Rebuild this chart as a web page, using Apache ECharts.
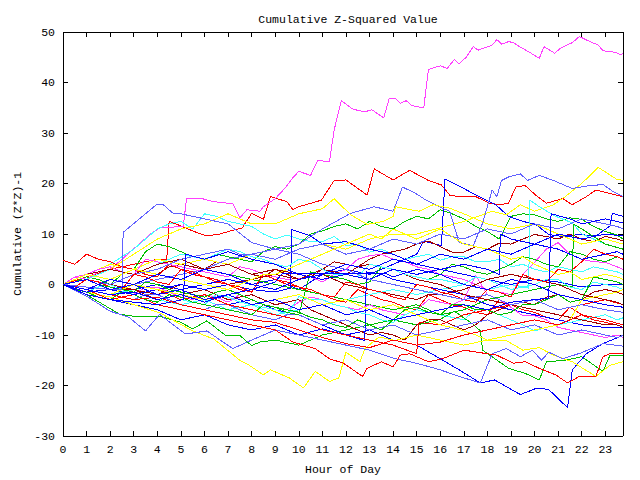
<!DOCTYPE html>
<html><head><meta charset="utf-8">
<script src="https://cdn.jsdelivr.net/npm/echarts@6/dist/echarts.min.js"></script>
<style>html,body{margin:0;padding:0;background:#fff}#c{width:640px;height:480px}#c svg path{shape-rendering:crispEdges}</style>
</head><body><div id="c"></div>
<script>
// half-hour grid for regularly sampled series (0, 0.5, ... 23.5, 23.75)
const halfHours = Array.from({length:48}, (_, i) => i / 2).concat([23.75]);
const yTicks = [-30,-20,-10,0,10,20,30,40,50];

// half-hourly series (values at halfHours[])
const red2 = [4.8,4, 6,5, 4.5,3.5, 3,2, 1.5,4, 3,2, 1.5,0.5, 0,-1, -1.5,2, 1,0, -0.5,-1.5, -2,-3, -3.5,-1, -2,-3, -3.5,-4.5, -5,-2, -3,-4, -4.5,-5.5, -6,-3, -4,-5, -5.5,-6.5, -7,-4.5, -6,-7, -7.5,-8, -8.5];
const red5 = [0,-0.5, 1,0.5, -0.5,-1, 2,1.5, 0.5,0, 3,2.5, 1.5,1, 0,-0.5, -1.5,2, 1,0.5, -0.5,-1, -2,-2.5, 0.5,0, -1,-1.5, -2.5,-3, 0,-0.5, -1.5,-2, -3,-3.5, -1,-1.5, -2.5,2, 1,0.5, 3,2.5, 4.5,7, 6,5.5, 5];
const green1 = [0,0.5, 1.5,1, 0,2, 3,6.5, 8,7.5, 6.5,5.5, 5,6, 5.5,5, 4.5,6.5, 7.5,7, 8,10, 10.6,11.5, 12,11, 12.5,11.5, 11,12.5, 13.5,13, 14.8,14, 13,11.5, 10.5,9, 13.5,14, 13.8,13, 12.5,13.2, 12.9,11.5, 10.5,9.8, 9];
const green4 = [0,-1, -1.5,-2.5, -3,-1.5, -2,-3, -3.5,-2, -2.5,-3.5, -4,-4.5, -5,-5.5, -6,-4, -4.5,-5.5, -6,2.5, 2,1.5, 1,0, 0.5,3.5, 3,2, 1.5,1, 2,4, 3.5,2.5, 2,3, 4,5.5, 5,4, 3.5,6.5, 6,5, 4.5,5.5, 5];
const green5 = [0,0.5, 1,0, -0.5,-1, -1.5,0.5, 0,-1, -1.5,-2, -2.5,-1.5, -1,-2, -3,-4, -4.5,-5, -5.5,-6.5, -7,-8, -8.5,-7, -8,-9, -7,-5, -4.5,-5.5, -6,-4, -4,-5, -5,-6, -5.5,-4, -4,-3, -2,-3.5, -3,1.5, 1,0.5, 0];
const magenta2 = [0,1.5, 2,3, 3.5,2.5, 2,5, 4.5,4, 3.5,3, 2.5,2, 1.5,3.5, 3,2, 1.5,1, 1.2,1.5, 0.5,2, 3,5, 5.7,6, 5,4.5, 3.5,3, 2,1.5, 1,0, -1,-1.5, -2,2, 4.4,7, 8.3,6, 5,4.5, 4.4,3.5, 3];
const magenta3 = [0,0.5, 1,0, -1,-1.5, -2,-0.5, -0.5,-1.5, -2.5,-3, -2,-2.5, -3.5,-2, -3,-4, -4.5,-5, -3.5,-2.5, -3,-4, -4.5,-5, -4,-5, -5.5,-6, -5,-3, -3.5,-4, -3,1.8, -2,-3, -4.5,-6.2, -6.2,-7, -8.5,-9, -9.5,-10, -10.5,-10, -10.5];
const cyan1 = [0,1, 2,3, 4,5.5, 7,9, 11,12, 12.5,11, 14,13.5, 12.5,12, 11.5,10, 9,9.8, 9,8.5, 8.5,9.5, 7.7,8, 6.4,7, 6,5, 5.5,6, 4.8,5.5, 5.5,4.5, 4.5,5, 3.5,4, 3,2.5, 3.5,3, 2.5,3.5, 3,2.5, 2];
const cyan3 = [0,-1, -1.5,-0.5, 0,-1, -2,-1.5, -1,-2, -3,-3.5, -4,-2, -2.5,-3.5, -4,-4.5, -5,-6, -2.4,-3, -3,-4, -4.5,-5.5, -6,-7, -7.5,-6, -5,-5.5, -6,-6.5, -7,-5, -5,-6, -7,-8, -9.2,-8.5, -8,-7.5, -7,-6.5, -6,-7, -6.6];
const cyan4 = [0,0.5, 1,2, 3,2.5, 2,3, 4,5, 6,5.5, 5,6, 7,6.5, 5.5,5, 4,3.5, 5,4.5, 3,2, 2,1.5, 4,3.5, 3,2, 1.5,1, 1,0.5, 0,1.5, 1,0, -1,-0.5, 0,1, 1,-0.5, -1,0.5, 0,-0.5, -1];
const darkred1 = [0,-0.5, -1,0, 1,2, 3,2.5, 2,3.5, 4,3.5, 3,4.5, 4,3, 2,1.5, 3,2.5, 2,1.5, 3,4.5, 4,3.5, 5,6, 6.5,7, 8,8.6, 7.5,6.4, 6.4,7.5, 7,8.2, 8,9, 9.9,9.5, 9,10, 9,8.5, 9.5,9, 8.6];
const darkred2 = [0,0.5, 1,0.5, 0,-0.5, -1,-1.5, -2,-1, 0,-0.5, -1,-2, -3,-2.5, -2,-3, -4,-3.5, -3,-5, -6,-7, -8,-9, -10,-9.5, -10,-11, -8,-7, -7,-8, -9,-8, -6,-5, -4,-3.5, -4,-2.5, -2,-2.5, -3,-1.5, -1,-1.5, -2];
const darkred3 = [0,-0.5, -1,-1.5, -2,-1, -1,-2, -3,-2.5, -2,-1.5, -1,-0.5, 0,0.5, 1,1.5, 2,1.5, 1,2, 3,2.5, 2,3.5, 4,3.5, 3,2, 1,0.5, 0,-1, -2,-2.5, -3,-3.5, -4,-4.5, -5,-5.5, -6,-6.5, -7,-7.5, -8,-8, -8.5];
const darkred4 = [0,1, 2,2.5, 3,2.5, 2,3, 4,4.5, 5,4, 3,3.5, 4,3, 2,2.5, 3,2, 1,1.5, 2,1, 0,-0.5, -1,-1.5, -2,-2.5, -3,-2, -2,-1.5, -1,0, 1,1.5, 2,1.5, 1,0.5, 0,-1, -2,-2.5, -3,-3.5, -4];
const yellow4 = [0,-0.5, -1,-1.5, -2,-1, 0,-0.5, -1,-1.5, -2,-2.5, -3,-2.5, -2,-3, -4,-3.5, -3,-2.5, -2,-3, -4,-3.5, -3,-4, -5,-4.5, -4,-5, -6,-7, -8,-8.5, -9.2,-10, -11,-10.5, -10,-9.5, -9,-8.5, -8,-7, -3,-2.5, -2,-1.5, -1];
const yellow5 = [0,1, 2,1.5, 1,2, 3,2.5, 2,1.5, 1,0.5, 0,-0.5, -1,0, 1,2, 2,3, 4,5, 6,7, 8,9, 10,9, 11,10, 9,10, 11,9.5, 8,7.5, 7,6, 5,5.5, 4,3, 2,2.5, 1,1.5, 2,1.5, 1];
const slate3 = [0,-0.5, -1,-1.5, -2,-2.5, -3,-2, -2,-3, -4,-4.5, -5,-4, -4,-5, -6,-6.5, -7,-6, -6,-7, -8,-7.5, -7,-8, -9,-8.5, -8,-9, -10,-9.5, -9,-8.5, -8,-7.5, -7,-8, -9,-8.5, -8,-9, -10,-9.5, -9,-9.5, -10,-10.5, -10.1];
const slate4 = [0,0.5, 1,0.5, 0,1, 2,2.5, 3,4, 5,5.5, 6,6.5, 7,6, 6,5.5, 5,6, 7,7.5, 8,7, 6,6.5, 7,8, 9,8.5, 8,9, 10,9.5, 9,10, 11,10.5, 10,11, 12,11.5, 11,12, 13,12.5, 12,11.5, 11];
const blue7 = [0,-0.5, -1,0, 1,0.5, 0,1, 2,1.5, 1,2, 3,2.5, 2,1, 0,-0.5, -1,0, 1,1.5, 2,3, 4,3.5, 3,4, 5,4.5, 4,5, 6,5.5, 5,6, 7,6.5, 6,7, 8,7.5, 7,6, 5,5.5, 6,6.5, 6];

// irregularly sampled series as [hour, value]
const magenta1 = [[0,0],[0.5,1.5],[1,1],[1.5,2.5],[2,3],[2.5,5],[3.3,8.3],[3.7,10],[4.1,11.2],[5.1,11.5],[5.24,17],[5.9,17],[6.4,16.4],[7.2,16],[7.5,13.2],[7.8,14.8],[8.35,14.5],[8.5,15.4],[9.0,17],[9.4,19],[9.72,21],[10,22.4],[10.5,21.6],[10.8,24.6],[11.3,24.3],[11.5,30.6],[11.8,36.4],[12.3,34.7],[12.8,34.2],[13.1,34.6],[13.6,33],[13.84,36.9],[14.1,36.9],[14.3,35.9],[14.56,36.4],[14.8,35.4],[15.3,35],[15.5,42.6],[16,43.3],[16.3,42.8],[16.6,44.6],[16.8,43.7],[17.1,45],[17.4,47.1],[17.6,46.4],[18.2,47.4],[18.4,48.5],[18.6,47.6],[18.9,48.1],[19.1,47.9],[19.4,47],[19.85,45.8],[20.2,44.8],[20.4,47.1],[20.85,45.8],[21.1,46.8],[21.6,47.9],[21.9,49.1],[22.3,48.2],[22.7,47.4],[22.9,46.3],[23.4,46],[23.65,45.5],[23.75,45.8]];
const red1 = [[0,0],[1,1.5],[2,3],[3,4],[4,5],[4.4,5],[4.5,12.5],[5,11.6],[5.5,10.6],[6.1,9.6],[6.65,10],[7.1,10.6],[7.6,11.2],[8,14.1],[8.5,12.9],[8.8,17.4],[9.5,16.4],[9.75,14.8],[10,15.4],[10.96,16.7],[11.5,20.6],[12,20.7],[12.9,17.7],[13.2,22.9],[14,20.7],[14.7,22.6],[15.5,20.6],[16.05,19.7],[16.4,17.7],[16.8,17.4],[17.5,17.4],[18.1,16.1],[18.5,15.8],[18.9,16.1],[19.2,19.3],[19.6,19.6],[20.05,17.7],[20.5,16.1],[21.2,17],[21.6,15.8],[22.2,17.4],[22.6,18.7],[23.2,18],[23.75,17.4]];
const red3 = [[0,0],[1,-1],[2,-3],[3,-2],[4,-4],[5,-5],[6,-6],[7,-7],[8,-8],[9,-9],[9.75,-11.4],[10.7,-12.7],[11.3,-14.7],[11.9,-15.6],[12.7,-18.2],[12.9,-16.6],[13.5,-15.3],[14,-16.3],[14.3,-14],[14.7,-13.7],[15.5,-15.3],[16.1,-14.7],[17,-13],[18.4,-14],[19.1,-15.6],[19.6,-15.3],[20.2,-16.6],[20.9,-17.9],[21.4,-19.5],[21.9,-18.2],[22.6,-18.2],[22.9,-14.3],[23.2,-13.7],[23.75,-13.7]];
const red4 = [[0,0],[1,2],[2,1],[3,0],[4,-1],[5,-3],[6,-2],[7,-4],[8,-5],[9,-6],[10,-7],[11,-9],[12,-10],[13,-11],[14,-12],[15,-13.7],[15.1,-7.5],[16,-8],[17,-6],[18,-5],[19,-4],[20,-3],[21,-5],[22,-4],[23,-3],[23.75,-4]];
const red6 = [[0,0],[1,-1],[2,-2],[3,-3],[4,-2.5],[5,-4],[6,-5],[7,-6],[8,-7],[9,-7.5],[10,-9],[11,-10.5],[12,-11.7],[13,-12.5],[14,-11],[15,-12],[16,-11.4],[17,-10],[18,-9],[19,-8],[20,-7],[21,-8],[22,-6],[23,-7],[23.75,-8]];
const green2 = [[0,0],[1,-2],[2.4,-5.9],[3,-6.3],[4.1,-6.3],[5,-7.5],[5.5,-8.8],[6.1,-7.2],[6.9,-10.1],[7.5,-10.1],[8,-12.1],[8.35,-11.4],[9,-11],[10,-12],[11,-10],[12,-9],[13,-8],[14,-7],[15,-8],[16,-6.9],[16.6,-5.3],[17,-6.6],[17.4,-7.9],[17.7,-9.2],[17.8,-13],[18.9,-16.6],[19.6,-17.6],[20.2,-18.9],[20.5,-15.3],[21.3,-15],[22,-14.3],[22.9,-17.2],[23.2,-14],[23.75,-14]];
const green3 = [[0,0],[1,-1],[2,1],[3,0],[4,2],[5,1],[6,3],[7,2],[8,1],[9,0],[10,-1],[11,-2],[12,-3],[13,-4],[14,-5],[15,-4],[16,-6],[17,-5],[18,-3],[19,-2],[20,-1],[21,0],[21.6,-0.5],[21.65,12],[22,11],[23,8],[23.75,7]];
const blue1 = [[0,0],[1,-1],[2,-2],[3,-1],[4,0],[5,-1],[6,0],[7,1],[8,0],[9,1],[10,-1],[11,2],[12,3],[13,2],[14,4],[15,6],[15.3,8.6],[16.05,7.7],[16.2,20.9],[16.6,20],[17.4,18],[18.35,15.8],[18.9,13.5],[19.5,12.5],[20.05,11.9],[20.6,9.9],[21.2,9.5],[21.9,9.9],[22.6,9.6],[23.2,11.6],[23.3,14.1],[23.75,13.5]];
const blue2 = [[0,0],[1,-2],[2,-3],[3,-4],[4,-5],[5,-7],[6,-6],[7,-8],[8,-9],[9,-8],[10,-10],[11,-8.8],[12,-10],[13,-9],[14,-11],[15,-12],[16,-14.7],[16.8,-16.9],[17.7,-19.5],[18.3,-18.9],[19.4,-21.8],[20.1,-20.5],[20.6,-20.8],[21.4,-24.4],[21.6,-16.9],[22.2,-13.7],[22.9,-11.7],[23.75,-10.1]];
const blue3 = [[0,0],[1,-1],[2,0],[3,-2],[4,-1],[5,-3],[6,-2],[7,-4],[8,-3],[9,-5],[10,-6],[11,-8],[12,-10],[12.8,-11.1],[12.87,2.5],[13.5,2],[14,1],[15,0],[16,-1],[17,-2],[18,-4],[19,-5],[20,-6],[21,-7],[22,-8],[23,-8.5],[23.75,-8.5]];
const blue4 = [[0,0],[1,-1.5],[2,-1],[3,-2],[4,-1],[5,0],[6,-1],[7,0],[8,-1],[9,-1.5],[9.65,-0.7],[9.7,10.9],[10.5,9.6],[11,8],[12,8.5],[13,7],[14,6],[15,4],[16,3],[17,2],[18,1],[19,0],[20,1],[21,0.5],[22,-0.5],[23,0],[23.75,0]];
const blue5 = [[0,0],[1,-2],[2,-3],[3,-3.5],[4,-4],[5.1,-3],[5.2,6],[6,5],[7,6.5],[8,5],[9,4],[10,2],[11,1],[12,2],[13,1],[14,3],[15,2],[16,3],[17,4],[18,3],[18.5,2],[18.55,10],[19,9],[20,8],[21,10],[22,9],[23,10],[23.75,9.6]];
const blue6 = [[0,0],[1,1],[2,-1],[3,0],[4,-2],[5,-1],[6,-3],[7,-2],[8,-4],[9,-3],[10,-5],[11,-4],[12,-6],[13,-5],[14,-7],[15,-6],[16,-5],[17,-4],[18,-5],[19,-3.5],[20,-3],[20.6,-2.7],[20.7,14],[21.5,13],[22,12],[23,13],[23.75,12.2]];
const blue8 = [[0,0],[1,-1],[2,-2],[3,-1.5],[4,-3],[5,-2],[6,-3.5],[7,-2],[8,-1],[9,0.5],[9.3,2.2],[13.7,2.2],[14,1.5],[15,3],[16,2],[17,0],[18,-1],[19,1],[20,0],[21,-2],[22,-3],[23,-4],[23.75,-4.5]];
const cyan2 = [[0,0],[1,-1],[2,-2],[3,-1],[4,-3],[5,-4],[6,-3],[7,-5],[8,-4],[9,-6],[10,-5],[11,-4],[12,-3],[13,-2],[14,-1],[15,-2],[16,-1],[17,0],[18,-1],[19,0],[19.75,-0.7],[19.8,16.7],[20.2,15.4],[20.9,13.5],[21.6,12.2],[22,10],[23,8],[23.75,7]];
const yellow1 = [[0,0],[1,2],[2,4],[3,3],[4,5],[5,4],[6,5],[7,4],[8,6],[9,5],[10,7],[11,8],[12,7],[13,9],[14,10],[15,10],[16,11.2],[17,12.5],[18.2,14.5],[18.8,13.8],[19.4,15.8],[20,14.5],[20.8,15.8],[21.3,17.4],[22,20],[22.7,23.2],[23.46,20.9],[23.75,20.6]];
const yellow2 = [[0,0],[1,-1.5],[2,-2.5],[3,-4],[4.1,-5.6],[5.5,-9.2],[6.4,-10.8],[7.5,-15],[7.9,-16],[8.5,-17.9],[8.8,-16.9],[9.6,-18.5],[10.2,-20.5],[10.7,-17.2],[11.3,-19.2],[11.7,-18.5],[12,-13.4],[12.6,-15.3],[12.8,-12.7],[13.4,-10.4],[14.1,-11.1],[15,-10],[16,-11],[17,-12],[18,-11],[18.8,-11.1],[19.5,-13],[20.2,-12.5],[20.8,-14],[21.6,-15.3],[22.6,-18.2],[23.2,-16],[23.75,-15.3]];
const yellow3 = [[0,0],[1,1],[2,3],[3,6],[4,9],[5,11],[6,12],[7,14],[8,12],[9,12],[10,14],[11,15],[11.5,17],[12.2,13.8],[12.9,11.9],[13.6,12.5],[14,13.5],[14.1,15.4],[15.1,14.5],[15.7,15.8],[16.4,15.1],[17,14],[18,12],[19,11],[20,12],[21,10],[22,8],[23,9],[23.75,8]];
const slate1 = [[0,0],[1,-1],[2,-2],[3,0],[4,1],[5,2],[6,3],[7,5],[8,6],[9,7],[10,8],[11,11],[12.2,14.1],[13.2,15.4],[14,14.5],[14.4,19.3],[14.97,18],[15.4,16.7],[16.1,15.1],[16.4,14.5],[16.8,8.3],[17.4,7.7],[17.8,12.2],[18.2,18.7],[18.4,17.4],[18.6,20.6],[18.9,21.3],[19.4,21.9],[19.7,20.6],[20.2,21.6],[20.8,20.6],[21.6,19],[22.2,19.5],[22.9,19.8],[23.3,18.5],[23.75,17.4]];
const slate2 = [[0,0],[1.1,-2.6],[2,-5.3],[2.8,-6.5],[3.5,-9.2],[4.1,-5.9],[4.65,-7.9],[5.2,-9.8],[6.1,-9.2],[7.2,-12.7],[8,-11],[9,-9],[10,-10],[11,-11],[12,-12],[13,-13],[14.1,-14.7],[15,-15.6],[16,-16.9],[16.8,-18.2],[17.7,-19.5],[18.2,-13.7],[18.8,-12.7],[19.4,-14.3],[19.9,-13],[20.3,-15],[20.6,-13.4],[21.2,-14.7],[22,-13.5],[22.9,-11.7],[23.75,-12.2]];
const slate5 = [[0,0],[1,-0.5],[2,-1],[2.5,-1],[2.55,10.3],[3.96,15.8],[4.25,15.8],[4.67,14.1],[5,14],[6,13],[7,12],[8,8.3],[9,7],[10,6],[11,4],[12,3],[13,1],[14,0],[15,-1],[16,-2],[17,-3],[18,-2],[19,-4],[20,-3],[21,-5],[22,-4],[23,-5],[23.75,-5.5]];

const colors = {red:'#ff0000', green:'#00c000', blue:'#0000ff', magenta:'#ff40ff', cyan:'#40ffff', darkred:'#a00000', yellow:'#ffff00', slate:'#6060ff'};

const toPairs = d => (Array.isArray(d[0]) ? d : d.map((v,i)=>[halfHours[i], v]));

const lines = [
  ['red',red1],['green',green1],['blue',blue1],['magenta',magenta1],['cyan',cyan1],['darkred',darkred1],['yellow',yellow1],['slate',slate1],
  ['red',red2],['green',green2],['blue',blue2],['magenta',magenta2],['cyan',cyan2],['darkred',darkred2],['yellow',yellow2],['slate',slate2],
  ['red',red3],['green',green3],['blue',blue3],['magenta',magenta3],['cyan',cyan3],['darkred',darkred3],['yellow',yellow3],['slate',slate3],
  ['red',red4],['green',green4],['blue',blue4],['cyan',cyan4],['darkred',darkred4],['yellow',yellow4],['slate',slate4],
  ['red',red5],['green',green5],['blue',blue5],['yellow',yellow5],['slate',slate5],['blue',blue6],['blue',blue7],['red',red6],['blue',blue8]
];

const FONT = '"Liberation Mono", "DejaVu Sans Mono", monospace';
const series = lines.map(([c,d])=>({
  type:'line', xAxisIndex:0, yAxisIndex:0, data:toPairs(d), showSymbol:false, symbol:'none',
  lineStyle:{color:colors[c], width:1}, itemStyle:{color:colors[c]}, silent:true, z:2
}));

const xBase = {type:'value', min:0, max:23.75, interval:1,
  axisLine:{show:true, onZero:false, lineStyle:{color:'#000', width:1}},
  axisTick:{show:true, inside:true, length:5, lineStyle:{color:'#000'}},
  splitLine:{show:false}};
const yBase = {type:'value', min:yTicks[0], max:yTicks[yTicks.length-1], interval:10,
  axisLine:{show:true, onZero:false, lineStyle:{color:'#000', width:1}},
  axisTick:{show:true, inside:true, length:5, lineStyle:{color:'#000'}},
  splitLine:{show:false}};

const chart = echarts.init(document.getElementById('c'), null, {renderer:'svg'});
chart.setOption({
  animation:false,
  backgroundColor:'#fff',
  title:{text:'Cumulative Z-Squared Value', left:343, top:8, textAlign:'center',
    textStyle:{fontFamily:FONT, fontSize:11.5, fontWeight:'normal', color:'#000'}},
  grid:{left:63, right:17, top:32, bottom:36, show:false},
  xAxis:[
    Object.assign({}, xBase, {position:'bottom', name:'Hour of Day', nameLocation:'middle', nameGap:27,
      nameTextStyle:{fontFamily:FONT, fontSize:11.5, color:'#000'},
      axisLabel:{show:true, margin:7, fontFamily:FONT, fontSize:11.5, color:'#000',
        showMaxLabel:false, formatter:v=>Number.isInteger(v)?String(v):''}}),
    Object.assign({}, xBase, {position:'top', axisLabel:{show:false}})
  ],
  yAxis:[
    Object.assign({}, yBase, {position:'left', name:'Cumulative (Z*Z)-1', nameLocation:'middle', nameGap:31, nameRotate:90,
      nameTextStyle:{fontFamily:FONT, fontSize:11.5, color:'#000'},
      axisLabel:{show:true, margin:8, fontFamily:FONT, fontSize:11.5, color:'#000'}}),
    Object.assign({}, yBase, {position:'right', axisLabel:{show:false}})
  ],
  series: series
});
const crisp = () => document.querySelectorAll('#c path').forEach(p => p.setAttribute('shape-rendering','crispEdges'));
chart.on('finished', crisp);
setTimeout(crisp, 0);
</script></body></html>
